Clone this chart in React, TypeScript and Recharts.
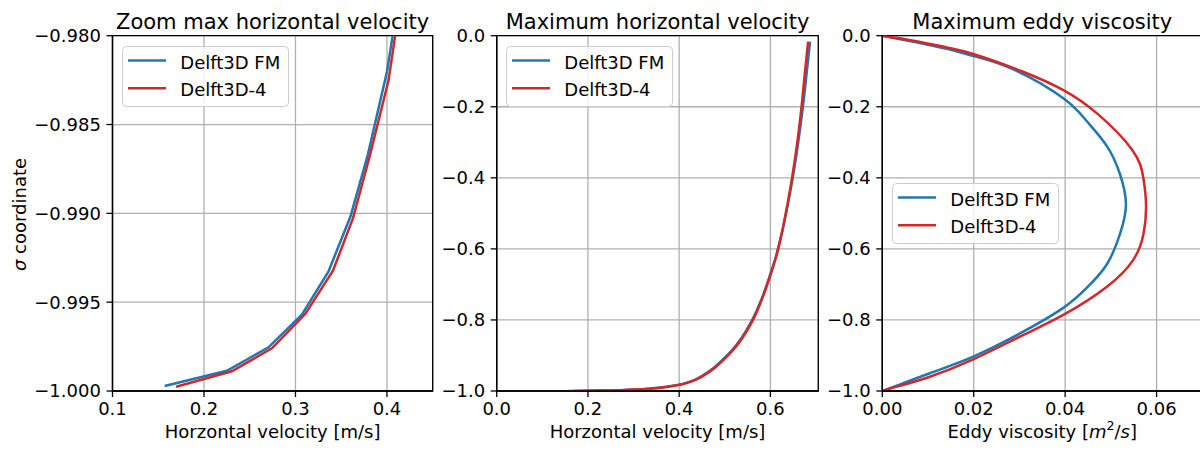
import React from "react";
import {
  LineChart,
  Line,
  XAxis,
  YAxis,
  CartesianGrid,
  ReferenceArea,
  Legend,
  Label,
} from "recharts";

const FONT = '"DejaVu Sans", sans-serif';
const FS = 18;
const BLUE = "#1f77b4";
const RED = "#d62728";

// velocity profiles (sigma level, horizontal velocity m/s)
const sigmaFM = [-0.99972, -0.99886, -0.99754, -0.9957, -0.99328, -0.99019, -0.98672, -0.98203, -0.9765, -0.968, -0.955, -0.936, -0.91, -0.885, -0.85, -0.8, -0.74, -0.678, -0.627, -0.55, -0.47, -0.4, -0.3, -0.203, -0.1, -0.017];
const uFM = [0.157, 0.225, 0.2705, 0.307, 0.336, 0.36, 0.379, 0.4, 0.417, 0.435, 0.453, 0.4745, 0.497, 0.516, 0.537, 0.56, 0.581, 0.598, 0.611, 0.626, 0.639, 0.649, 0.661, 0.671, 0.68, 0.687];
const sigmaD4 = [-0.99976, -0.99889, -0.9976, -0.99567, -0.99323, -0.99028, -0.98681, -0.9825, -0.9765, -0.968, -0.955, -0.936, -0.91, -0.885, -0.85, -0.8, -0.74, -0.678, -0.627, -0.55, -0.47, -0.4, -0.3, -0.203, -0.1, -0.017];
const uD4 = [0.1695, 0.2304, 0.2742, 0.3106, 0.341, 0.3628, 0.381, 0.4018, 0.419, 0.437, 0.456, 0.477, 0.499, 0.518, 0.539, 0.562, 0.582, 0.599, 0.6115, 0.626, 0.638, 0.6475, 0.659, 0.668, 0.676, 0.6826];

// eddy viscosity profiles (sigma level, m2/s)
const sigmaEddyFM = [-1.0, -0.98, -0.95, -0.903, -0.838, -0.766, -0.71, -0.644, -0.558, -0.475, -0.39, -0.31, -0.24, -0.176, -0.095, -0.057, -0.037, -0.017, 0];
const nuFM = [0, 0.0042, 0.0104, 0.0199, 0.0301, 0.0396, 0.0447, 0.0491, 0.052, 0.0533, 0.052, 0.0491, 0.0447, 0.0396, 0.0287, 0.0199, 0.0141, 0.0068, 0];
const sigmaEddyD4 = [-1.0, -0.985, -0.96, -0.911, -0.847, -0.786, -0.706, -0.631, -0.56, -0.48, -0.4, -0.32, -0.218, -0.153, -0.1, -0.0515, -0.033, -0.014, 0];
const nuD4 = [0, 0.004, 0.0104, 0.0199, 0.0301, 0.0396, 0.0492, 0.0549, 0.0571, 0.0577, 0.0571, 0.0546, 0.0469, 0.0396, 0.0305, 0.0199, 0.0141, 0.0068, 0];

const zoomXTicks = [0.1, 0.2, 0.3, 0.4];
const zoomYTicks = [-1.0, -0.995, -0.99, -0.985, -0.98];
const velXTicks = [0, 0.2, 0.4, 0.6];
const eddyXTicks = [0, 0.02, 0.04, 0.06];
const sigmaTicks = [-1.0, -0.8, -0.6, -0.4, -0.2, 0];

const zip = (ys: number[], xs: number[]) => ys.map((y, i) => ({ x: xs[i], y }));

const fmt = (d: number) => (v: number) => v.toFixed(d).replace("-", "\u2212");

const LegendBox = ({ payload }: any) => (
  <svg width={168} height={62} style={{ display: "block" }}>
    <rect x={0.5} y={0.5} width={166} height={60} rx={4} fill="rgba(255,255,255,0.8)" stroke="#cccccc" />
    {(payload || []).map((p: any, i: number) => (
      <g key={i}>
        <line x1={6} x2={44} y1={14.5 + i * 27.7} y2={14.5 + i * 27.7} stroke={p.color} strokeWidth={2.5} />
        <text x={58.3} y={22.5 + i * 27.7} fontSize={FS} fontFamily={FONT} fill="#000">
          {p.value}
        </text>
      </g>
    ))}
  </svg>
);

type PanelProps = {
  left: number;
  width: number;
  plotLeft: number;
  plotRight: number;
  xDomain: [number, number];
  xTicks: number[];
  xDigits: number;
  yDomain: [number, number];
  yTicks: number[];
  yDigits: number;
  curve: any;
  title: string;
  xLabel: React.ReactNode;
  yLabel?: React.ReactNode;
  legendLeft: number;
  legendTop: number;
  blue: { x: number; y: number }[];
  red: { x: number; y: number }[];
};

const Panel = (p: PanelProps) => {
  const yAxisW = 60;
  const margin = { top: 35.7, right: p.left + p.width - p.plotRight, bottom: 0, left: p.plotLeft - p.left - yAxisW };
  const cx = (p.plotLeft + p.plotRight) / 2 - p.left;
  const tick = { fontSize: FS, fill: "#000", fontFamily: FONT };
  return (
    <div style={{ position: "absolute", left: p.left, top: 0 }}>
      <LineChart width={p.width} height={451} margin={margin} style={{ fontFamily: FONT }}>
        <CartesianGrid stroke="#b0b0b0" strokeWidth={1.3} />
        <XAxis
          type="number"
          dataKey="x"
          domain={p.xDomain}
          ticks={p.xTicks}
          interval={0}
          allowDataOverflow
          tickFormatter={fmt(p.xDigits)}
          tick={tick}
          stroke="#000"
          strokeWidth={1.3}
          tickSize={6}
          tickMargin={5.6}
          height={60}
        >
          <Label
            content={() => (
              <g>
                <text x={cx} y={28.5} textAnchor="middle" fontSize={21} fontFamily={FONT} fill="#000">
                  {p.title}
                </text>
                <text x={cx} y={437.5} textAnchor="middle" fontSize={FS} fontFamily={FONT} fill="#000">
                  {p.xLabel}
                </text>
              </g>
            )}
          />
        </XAxis>
        <YAxis
          type="number"
          domain={p.yDomain}
          ticks={p.yTicks}
          interval={0}
          allowDataOverflow
          tickFormatter={fmt(p.yDigits)}
          tick={tick}
          stroke="#000"
          strokeWidth={1.3}
          tickSize={6}
          tickMargin={5.6}
          width={yAxisW}
        >
          {p.yLabel ? (
            <Label
              content={() => (
                <text
                  x={26 - p.left}
                  y={214.5}
                  textAnchor="middle"
                  fontSize={FS}
                  fontFamily={FONT}
                  fill="#000"
                  transform={`rotate(-90, ${26 - p.left}, 214.5)`}
                >
                  {p.yLabel}
                </text>
              )}
            />
          ) : null}
        </YAxis>
        <ReferenceArea
          x1={p.xDomain[0]}
          x2={p.xDomain[1]}
          y1={p.yDomain[0]}
          y2={p.yDomain[1]}
          fill="none"
          stroke="#000"
          strokeWidth={1.3}
          ifOverflow="visible"
        />
        <Line
          data={p.blue}
          dataKey="y"
          name="Delft3D FM"
          type={p.curve}
          stroke={BLUE}
          strokeWidth={2.5}
          dot={false}
          activeDot={false}
          isAnimationActive={false}
        />
        <Line
          data={p.red}
          dataKey="y"
          name="Delft3D-4"
          type={p.curve}
          stroke={RED}
          strokeWidth={2.5}
          dot={false}
          activeDot={false}
          isAnimationActive={false}
        />
        <Legend
          layout="vertical"
          align="center"
          verticalAlign="middle"
          content={LegendBox}
          wrapperStyle={{ left: p.legendLeft - p.left, top: p.legendTop, width: 168, height: 62 }}
        />
      </LineChart>
    </div>
  );
};

export default function App() {
  const velFM = zip(sigmaFM, uFM);
  const velD4 = zip(sigmaD4, uD4);
  return (
    <div
      style={{
        position: "absolute",
        left: 0,
        top: 0,
        width: 1200,
        height: 451,
        overflow: "hidden",
        background: "#fff",
      }}
    >
      <Panel
        left={0}
        width={460}
        plotLeft={112.5}
        plotRight={432.7}
        xDomain={[0.1, 0.45]}
        xTicks={zoomXTicks}
        xDigits={1}
        yDomain={[-1.0, -0.98]}
        yTicks={zoomYTicks}
        yDigits={3}
        curve="linear"
        title="Zoom max horizontal velocity"
        xLabel="Horzontal velocity [m/s]"
        yLabel={
          <>
            <tspan fontStyle="italic">σ</tspan> coordinate
          </>
        }
        legendLeft={121.7}
        legendTop={45.7}
        blue={velFM}
        red={velD4}
      />
      <Panel
        left={440}
        width={400}
        plotLeft={496.7}
        plotRight={818.3}
        xDomain={[0, 0.705]}
        xTicks={velXTicks}
        xDigits={1}
        yDomain={[-1, 0]}
        yTicks={sigmaTicks}
        yDigits={1}
        curve="monotoneY"
        title="Maximum horizontal velocity"
        xLabel="Horzontal velocity [m/s]"
        legendLeft={506}
        legendTop={45.7}
        blue={velFM}
        red={velD4}
      />
      <Panel
        left={820}
        width={400}
        plotLeft={882.3}
        plotRight={1202.3}
        xDomain={[0, 0.07]}
        xTicks={eddyXTicks}
        xDigits={2}
        yDomain={[-1, 0]}
        yTicks={sigmaTicks}
        yDigits={1}
        curve="natural"
        title="Maximum eddy viscosity"
        xLabel={
          <>
            Eddy viscosity [<tspan fontStyle="italic">m</tspan>
            <tspan fontSize={12.6} dy={-7.5}>2</tspan>
            <tspan dy={7.5}>/</tspan>
            <tspan fontStyle="italic">s</tspan>]
          </>
        }
        legendLeft={891.7}
        legendTop={183.3}
        blue={zip(sigmaEddyFM, nuFM)}
        red={zip(sigmaEddyD4, nuD4)}
      />
    </div>
  );
}
